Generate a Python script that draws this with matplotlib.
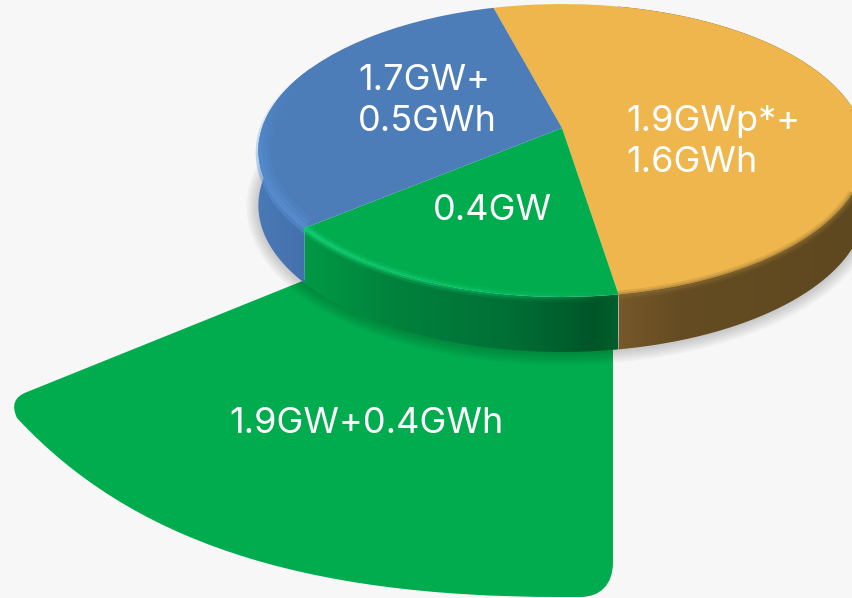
import numpy as np
import matplotlib
matplotlib.use("Agg")
import matplotlib.pyplot as plt
from matplotlib.colors import LinearSegmentedColormap
from matplotlib.collections import LineCollection
from matplotlib.patches import PathPatch, Polygon
from matplotlib.path import Path
from matplotlib.transforms import Transform

plt.rcParams["font.family"] = ["Inter", "DejaVu Sans"]

# slices, clockwise from the blue/orange border (degrees)
names = ["storage", "grid", "wind"]
shares = [186, 60, 114]
top_colors = ["#eeb64c", "#00ac4e", "#4c7db8"]
side_stops = [
    [(0.0, "#76582a"), (0.25, "#654c22"), (1.0, "#5e4820")],
    [(0.0, "#009b46"), (0.3, "#00823c"), (0.65, "#007036"), (0.93, "#005528"), (1.0, "#005f2c")],
    [(0.0, "#4a7ab8"), (1.0, "#4470ac")],
]
side_ranges = [(618, 860), (298, 618), (250, 310)]

label_lines = ["1.7GW+", "0.5GWh", "1.9GWp*+", "1.6GWh", "0.4GW", "1.9GW+0.4GWh"]
label_x = [358, 358, 626, 626, 433, 229]
label_y = [90, 131, 131, 172, 220, 433]

bg = "#f7f7f7"
green = "#00ac4e"
start_angle = 105.2
apex = (562, 128)
A, B, K = 300, 143, 0.1536
depth = 55


class Perspective(Transform):
    # unit circle of the pie -> tilted disc in pixel coordinates
    input_dims = 2
    output_dims = 2

    def transform_non_affine(self, values):
        values = np.asarray(values, dtype=float)
        u, v = values[:, 0], values[:, 1]
        w = 1 + K * v
        return np.column_stack([apex[0] + A * u / w, apex[1] - B * v / w])


def rim(theta_deg):
    t = np.radians(theta_deg)
    return Perspective().transform_non_affine(np.column_stack([np.cos(t), np.sin(t)]))


fig = plt.figure(figsize=(8.52, 5.98), dpi=100, facecolor=bg)
ax = fig.add_axes([0, 0, 1, 1])

# exploded slice underneath
verts = [
    (613, 330), (613, 562), (613, 585), (600, 597), (580, 597), (560, 597),
    (300, 597), (130, 540), (17, 418), (8, 399), (27, 392), (310, 278),
]
codes = [
    Path.MOVETO, Path.LINETO, Path.CURVE4, Path.CURVE4, Path.CURVE4, Path.LINETO,
    Path.CURVE4, Path.CURVE4, Path.CURVE4, Path.CURVE3, Path.CURVE3, Path.LINETO,
]
ax.add_patch(PathPatch(Path(verts, codes), fc=green, ec="none", zorder=1))

# soft shadow of the disc
full = rim(np.linspace(0, 360, 361))
for lw in [2, 5, 8, 11, 14, 17]:
    ax.add_patch(Polygon(full + [0, depth + 1], closed=True, fc="none", ec="k", lw=lw, alpha=0.03, zorder=2))

wedges, _ = ax.pie(
    shares,
    colors=top_colors,
    startangle=start_angle,
    counterclock=False,
    wedgeprops=dict(transform=Perspective() + ax.transData, linewidth=0, zorder=6),
)

edges = start_angle - np.cumsum([0] + shares)
for i in [2, 1, 0]:
    theta = np.linspace(edges[i], edges[i + 1], 120)
    arc = rim(theta)
    outline = np.vstack([arc, (arc + [0, depth])[::-1]])
    x0, x1 = side_ranges[i]
    cmap = LinearSegmentedColormap.from_list(names[i], side_stops[i])
    im = ax.imshow(
        np.linspace(0, 1, 256)[None, :],
        cmap=cmap,
        extent=(x0, x1, 420, 0),
        aspect="auto",
        interpolation="bilinear",
        zorder=3 + 0.1 * i,
    )
    im.set_clip_path(Polygon(outline, closed=True, transform=ax.transData))

# orange edge is a blurred step, front part only
arc = rim(np.linspace(edges[1], 8, 120))
for lw, a in [(7, 0.18), (4, 0.3), (2, 0.35)]:
    ax.plot(arc[:, 0], arc[:, 1] + 1, color="#8c6c30", lw=lw, alpha=a, solid_capstyle="butt", zorder=7)

# blue bevel, lighter band along the left rim
arc = rim(np.linspace(edges[2], edges[2] - 62, 80))
segs = np.stack([arc[:-1], arc[1:]], axis=1)
fade = np.clip(np.linspace(1.6, 0, len(segs)), 0, 1)
for lw, a in [(18, 0.15), (12, 0.25), (6, 0.35)]:
    rgba = np.tile(matplotlib.colors.to_rgba("#5a96dc"), (len(segs), 1))
    rgba[:, 3] = a * fade
    lc = LineCollection(segs, colors=rgba, linewidths=lw, capstyle="butt", zorder=7)
    ax.add_collection(lc)
    lc.set_clip_path(wedges[2])
# same band spills a little onto the side
rgba = np.tile(matplotlib.colors.to_rgba("#5a96dc"), (len(segs), 1))
rgba[:, 3] = 0.45 * fade
ax.add_collection(LineCollection(segs + [0, 2], colors=rgba, linewidths=4, capstyle="butt", zorder=5))

# green highlight that fades out to the right
arc = rim(np.linspace(edges[2], edges[1], 100))
segs = np.stack([arc[:-1], arc[1:]], axis=1)
fade = np.linspace(1, 0, len(segs)) ** 0.8
for lw, a in [(7, 0.35), (3.5, 0.7)]:
    rgba = np.tile(matplotlib.colors.to_rgba("#12cf73"), (len(segs), 1))
    rgba[:, 3] = a * fade
    ax.add_collection(LineCollection(segs, colors=rgba, linewidths=lw, capstyle="butt", zorder=7))

for text, x, y in zip(label_lines, label_x, label_y):
    ax.text(x, y, text, color="white", fontsize=26, ha="left", va="baseline", zorder=8)

ax.set_aspect("auto")
ax.set_xlim(0, 852)
ax.set_ylim(598, 0)
ax.axis("off")
fig.savefig("out.png", dpi=100, facecolor=bg)
